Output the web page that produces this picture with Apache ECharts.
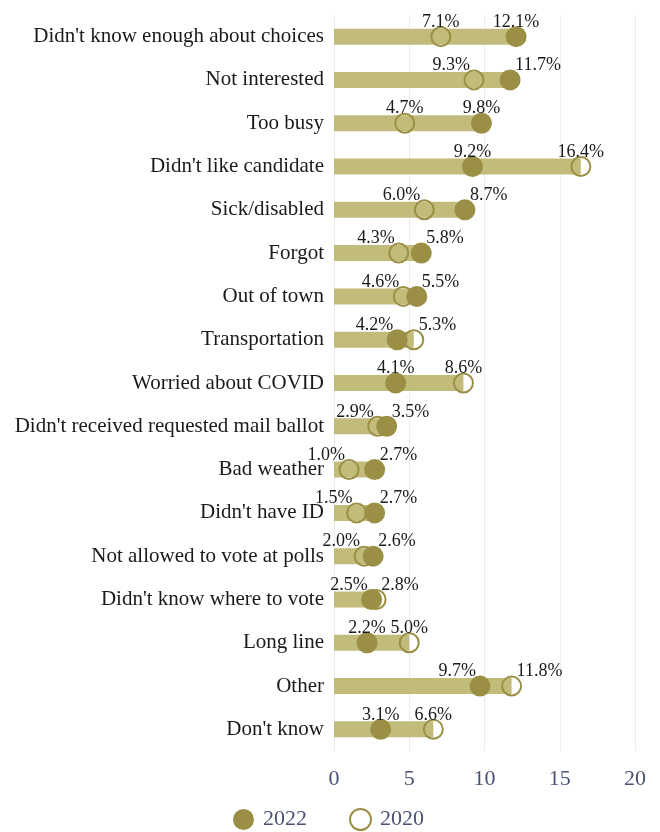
<!DOCTYPE html>
<html>
<head>
<meta charset="utf-8">
<script src="https://cdn.jsdelivr.net/npm/echarts@6/dist/echarts.min.js"></script>
<style>
html,body{margin:0;padding:0;background:#fff;}
#c{width:660px;height:832px;}
</style>
</head>
<body>
<div id="c"></div>
<script>
const categories = [
  "Didn't know enough about choices",
  "Not interested",
  "Too busy",
  "Didn't like candidate",
  "Sick/disabled",
  "Forgot",
  "Out of town",
  "Transportation",
  "Worried about COVID",
  "Didn't received requested mail ballot",
  "Bad weather",
  "Didn't have ID",
  "Not allowed to vote at polls",
  "Didn't know where to vote",
  "Long line",
  "Other",
  "Don't know"
];
const values2022 = [12.1, 11.7, 9.8, 9.2, 8.7, 5.8, 5.5, 4.2, 4.1, 3.5, 2.7, 2.7, 2.6, 2.5, 2.2, 9.7, 3.1];
const values2020 = [7.1, 9.3, 4.7, 16.4, 6.0, 4.3, 4.6, 5.3, 8.6, 2.9, 1.0, 1.5, 2.0, 2.8, 5.0, 11.8, 6.6];
const xTicks = [0, 5, 10, 15, 20];

const FONT = '"Liberation Serif", "DejaVu Serif", serif';
const LABEL_SIZE = 18;
const GRID = {left: 334, right: 25, top: 15, bottom: 81};
const W = 660;
const pxPerUnit = (W - GRID.left - GRID.right) / (xTicks[xTicks.length - 1] - xTicks[0]);

const ctx = document.createElement('canvas').getContext('2d');
ctx.font = LABEL_SIZE + 'px ' + FONT;
const fmt = v => v.toFixed(1) + '%';
const tw = s => ctx.measureText(s).width;

function labelFor(mine, other) {
  const sep = Math.abs(mine - other) * pxPerUnit;
  const need = (tw(fmt(mine)) + tw(fmt(other))) / 2 + 4.2;
  if (sep >= need) return {};
  if (mine <= other) return {align: 'right', offset: [-4, 0]};
  return {align: 'left', offset: [5, 0]};
}

const data22 = values2022.map((v, i) => ({value: [v, categories[i]], label: labelFor(v, values2020[i])}));
const data20 = values2020.map((v, i) => ({value: [v, categories[i]], label: labelFor(v, values2022[i])}));
const barData = values2022.map((v, i) => Math.max(v, values2020[i]));

const dark = '#9a8f45';
const chart = echarts.init(document.getElementById('c'), null, {renderer: 'canvas'});
const valueLabel = {
  show: true, position: 'top', distance: -5,
  fontFamily: FONT, fontSize: LABEL_SIZE, color: '#1a1a1a',
  formatter: p => fmt(p.value[0])
};
chart.setOption({
  animation: false,
  grid: GRID,
  legend: {
    bottom: -4, left: 228,
    itemWidth: 21, itemHeight: 21, itemGap: 42,
    data: [{name: '2022', icon: 'circle'}, {name: '2020', icon: 'circle'}],
    textStyle: {fontFamily: FONT, fontSize: 22, color: '#4b5275', padding: [0, 0, 0, 4]}
  },
  xAxis: {
    type: 'value', min: 0, max: 20, interval: 5,
    axisLine: {show: false}, axisTick: {show: false},
    splitLine: {lineStyle: {color: '#ececec', width: 1}},
    axisLabel: {fontFamily: FONT, fontSize: 22, color: '#4b5275', margin: 17,
      formatter: v => xTicks.includes(v) ? String(v) : ''}
  },
  yAxis: {
    type: 'category', data: categories, inverse: true,
    axisLine: {show: false}, axisTick: {show: false},
    axisLabel: {fontFamily: FONT, fontSize: 21, color: '#1a1a1a', margin: 10, padding: [4, 0, 0, 0]}
  },
  series: [
    {
      type: 'bar', data: barData, barWidth: 16, silent: true,
      itemStyle: {color: '#c2bc7b'}, z: 1
    },
    {
      name: '2020', type: 'scatter', data: data20, symbolSize: 19,
      itemStyle: {color: 'rgba(0,0,0,0)', borderColor: dark, borderWidth: 2, opacity: 1},
      label: valueLabel, z: 2
    },
    {
      name: '2022', type: 'scatter', data: data22, symbolSize: 21,
      itemStyle: {color: dark, opacity: 1},
      label: valueLabel, z: 3
    }
  ]
});
</script>
</body>
</html>
